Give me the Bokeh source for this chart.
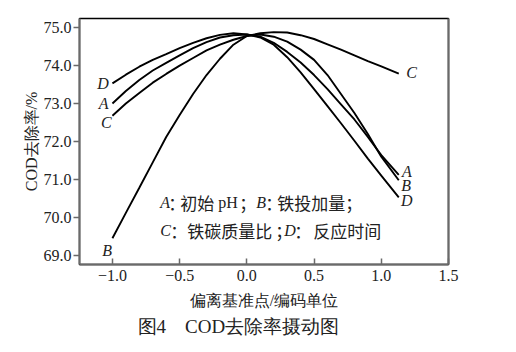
from bokeh.plotting import figure
from bokeh.models import Range1d, FixedTicker, LinearAxis, Label, Title
from bokeh.embed import file_html
from bokeh.resources import INLINE

# ---- data ----
x_coded = [-1.0, -0.9, -0.8, -0.7, -0.6, -0.5, -0.4, -0.3, -0.2, -0.1, 0.0,
           0.1, 0.2, 0.3, 0.4, 0.5, 0.6, 0.7, 0.8, 0.9, 1.0, 1.13]
cod_A = [73.00, 73.33, 73.62, 73.87, 74.07, 74.27, 74.46, 74.62, 74.74, 74.80, 74.82,
         74.76, 74.60, 74.36, 74.08, 73.75, 73.38, 72.98, 72.58, 72.12, 71.64, 71.12]
cod_B = [69.45, 70.12, 70.78, 71.45, 72.12, 72.70, 73.25, 73.75, 74.18, 74.55, 74.78,
         74.82, 74.76, 74.63, 74.42, 74.15, 73.75, 73.25, 72.75, 72.20, 71.60, 70.98]
cod_C = [72.68, 73.00, 73.28, 73.55, 73.78, 74.00, 74.20, 74.40, 74.55, 74.68, 74.78,
         74.85, 74.88, 74.87, 74.80, 74.70, 74.56, 74.42, 74.27, 74.12, 73.98, 73.79]
cod_D = [73.53, 73.76, 73.97, 74.15, 74.30, 74.46, 74.60, 74.72, 74.81, 74.85, 74.82,
         74.74, 74.55, 74.22, 73.82, 73.38, 72.93, 72.48, 72.02, 71.55, 71.10, 70.53]
series_names = ["A", "B", "C", "D"]
factor_names = ["初始pH", "铁投加量", "铁碳质量比", "反应时间"]

x_ticks = [-1.0, -0.5, 0.0, 0.5, 1.0, 1.5]
x_tick_labels = ["\u22121.0", "\u22120.5", "0.0", "0.5", "1.0", "1.5"]
y_ticks = [69.0, 70.0, 71.0, 72.0, 73.0, 74.0, 75.0]
y_tick_labels = ["69.0", "70.0", "71.0", "72.0", "73.0", "74.0", "75.0"]

x_title = "偏离基准点/编码单位"
y_title = "COD去除率/%"
caption = "图4\u3000COD去除率摄动图"

SERIF = "Liberation Serif"
CJK = "Noto Sans CJK SC"
GRAY = "#6a6a6a"
INK = "#222222"

p = figure(width=516, height=352, output_backend="svg", toolbar_location=None,
           x_range=Range1d(-1.245, 1.5), y_range=Range1d(68.76, 75.24),
           min_border_left=79, min_border_right=68, min_border_top=18,
           min_border_bottom=88)
p.background_fill_color = "white"
p.border_fill_color = "white"
p.outline_line_color = "black"
p.outline_line_width = 1.4
p.grid.visible = False

# axes
p.xaxis.ticker = FixedTicker(ticks=x_ticks)
p.xaxis.major_label_overrides = dict(zip(x_ticks, x_tick_labels))
p.yaxis.ticker = FixedTicker(ticks=y_ticks)
p.yaxis.major_label_overrides = dict(zip(y_ticks, y_tick_labels))
for ax in (p.xaxis[0], p.yaxis[0]):
    ax.axis_line_color = GRAY
    ax.axis_line_width = 2
    ax.major_tick_line_color = GRAY
    ax.major_tick_line_width = 1.5
    ax.minor_tick_line_color = None
    ax.major_label_text_font = SERIF
    ax.major_label_text_font_size = "16px"
    ax.major_label_text_color = INK
    ax.axis_label_text_font = SERIF
    ax.axis_label_text_font_size = "16px"
    ax.axis_label_text_font_style = "normal"
    ax.axis_label_text_color = INK
p.xaxis.major_tick_in = 6
p.xaxis.major_tick_out = 0
p.xaxis.major_label_standoff = 5
p.xaxis.axis_label = x_title
p.xaxis.axis_label_standoff = 8
p.yaxis.major_tick_in = 0
p.yaxis.major_tick_out = 6
p.yaxis.major_label_standoff = 2
p.yaxis.axis_label = y_title
p.yaxis.axis_label_standoff = 1

right = LinearAxis(ticker=FixedTicker(ticks=[]), axis_line_color=GRAY, axis_line_width=2,
                   major_tick_line_color=None, minor_tick_line_color=None)
p.add_layout(right, "right")

# caption below the axis title
p.add_layout(Title(text=caption, align="left", offset=58, text_font=SERIF,
                   text_font_size="19px", text_font_style="normal", text_color=INK,
                   standoff=4), "below")

# curves
for ys in (cod_A, cod_B, cod_C, cod_D):
    p.line(x_coded, ys, line_color="black", line_width=1.9)

def lab(x, y, text, font=SERIF, style="italic", size="16px", align="center", xoff=0):
    p.add_layout(Label(x=x, y=y, text=text, text_font=font, text_font_style=style,
                       text_font_size=size, text_align=align, text_baseline="middle",
                       text_color=INK, x_offset=xoff))

# curve end labels
left_pos = {"A": (-1.065, 73.0), "B": (-1.04, 69.13), "C": (-1.045, 72.5), "D": (-1.07, 73.53)}
right_pos = {"A": (1.19, 71.2), "B": (1.185, 70.84), "C": (1.225, 73.82), "D": (1.19, 70.45)}
for n in series_names:
    lab(*left_pos[n], n)
    lab(*right_pos[n], n)

# in-plot legend text
x0 = -0.644
rows = [
    (70.40, [(series_names[0], 0, "i"), ("：", 8, "c"), (factor_names[0][:2], 20, "c"),
             ("pH", 58, "s"), ("；", 79, "c"), (series_names[1], 96, "i"), ("：", 105, "c"),
             (factor_names[1], 117, "c"), ("；", 185, "c")]),
    (69.66, [(series_names[2], 0, "i"), ("：", 10, "c"), (factor_names[2], 27, "c"),
             ("；", 115, "c"), (series_names[3], 124, "i"), ("：", 134, "c"),
             (factor_names[3], 153, "c")]),
]
for yv, pieces in rows:
    for t, off, kind in pieces:
        if kind == "i":
            lab(x0, yv, t, font=SERIF, style="italic", align="left", xoff=off)
        elif kind == "s":
            lab(x0, yv, t, font=SERIF, style="normal", align="left", xoff=off)
        else:
            lab(x0, yv, t, font=CJK, style="normal", size="17px", align="left", xoff=off)

open("out.html", "w").write(file_html(p, INLINE))
